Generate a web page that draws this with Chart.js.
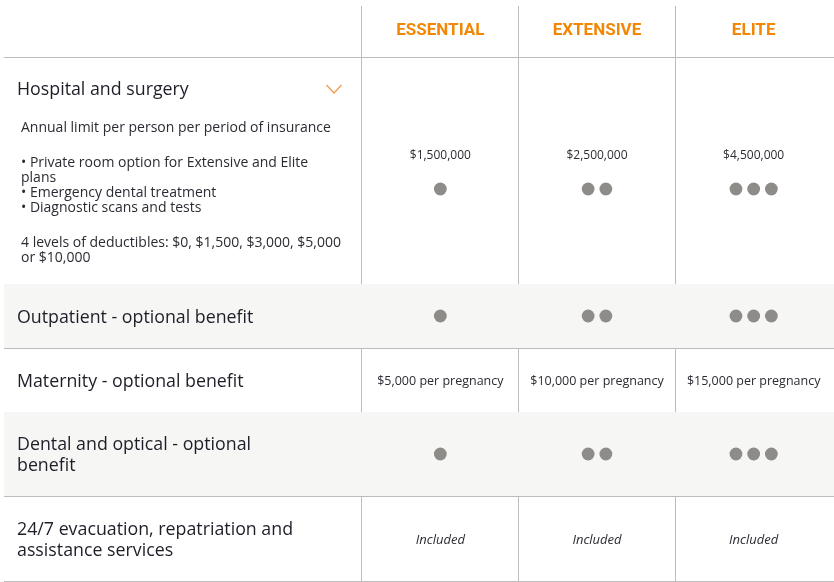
<!DOCTYPE html>
<html lang="en">
<head>
    <meta charset="UTF-8">
    <title>Health insurance plans</title>
    <style>
        html, body { margin: 0; padding: 0; background: #fff; }
        canvas { display: block; }
    </style>
</head>
<body>

<canvas id="myChart" width="834" height="582" aria-label="Plan comparison table" role="img"></canvas>

<script src="https://cdn.jsdelivr.net/npm/chart.js@4/dist/chart.umd.min.js"></script>

<script>
    // data
    var plans = ['ESSENTIAL', 'EXTENSIVE', 'ELITE'];
    var benefits = [
        ['Hospital and surgery'],
        ['Outpatient - optional benefit'],
        ['Maternity - optional benefit'],
        ['Dental and optical - optional', 'benefit'],
        ['24/7 evacuation, repatriation and', 'assistance services']
    ];
    var hospitalDetails = [
        'Annual limit per person per period of insurance',
        '',
        '\u2022 Private room option for Extensive and Elite',
        'plans',
        '\u2022 Emergency dental treatment',
        '\u2022 Diagnostic scans and tests',
        '',
        '4 levels of deductibles: $0, $1,500, $3,000, $5,000',
        'or $10,000'
    ];
    var hospitalLimits = ['$1,500,000', '$2,500,000', '$4,500,000'];
    var maternityLimits = ['$5,000 per pregnancy', '$10,000 per pregnancy', '$15,000 per pregnancy'];
    var evacuation = ['Included', 'Included', 'Included'];
    var hospitalLevel = [1, 2, 3];
    var outpatientLevel = [1, 2, 3];
    var dentalLevel = [1, 2, 3];

    // layout (pixels)
    var headerHeight = 51;
    var rowHeights = [227, 64, 64, 84, 85];
    var shadedRows = [1, 3];
    var labelWidth = 358;
    var colWidth = 156.67;
    var dotGap = 17.7;
    var textShift = 1.5; // nudge for the 'middle' baseline

    var bodyFont = "'Open Sans', sans-serif";
    var headFont = "bold 17px Roboto, sans-serif";

    // row boundaries on the y scale
    var bounds = [headerHeight];
    rowHeights.forEach(function (h) { bounds.push(bounds[bounds.length - 1] + h); });
    function rowMid(r) { return (bounds[r] + bounds[r + 1]) / 2; }

    var dots = [];
    function addDots(levels, y) {
        levels.forEach(function (n, i) {
            for (var k = 0; k < n; k++) {
                dots.push({ x: i + (k - (n - 1) / 2) * dotGap / colWidth, y: y });
            }
        });
    }
    addDots(hospitalLevel, rowMid(0) + 18.5);
    addDots(outpatientLevel, rowMid(1));
    addDots(dentalLevel, rowMid(3));

    var tablePlugin = {
        id: 'table',
        beforeDatasetsDraw: function (chart) {
            var ctx = chart.ctx, a = chart.chartArea, y = chart.scales.y;
            ctx.save();
            ctx.fillStyle = '#f6f6f5';
            shadedRows.forEach(function (r) {
                var t = y.getPixelForValue(bounds[r]), b = y.getPixelForValue(bounds[r + 1]);
                ctx.fillRect(a.left, t, a.right - a.left, b - t);
            });
            ctx.restore();
        },
        afterDraw: function (chart) {
            var ctx = chart.ctx, a = chart.chartArea, x = chart.scales.x, y = chart.scales.y;
            function py(v) { return y.getPixelForValue(v) + textShift; }
            ctx.save();
            ctx.textAlign = 'center';
            ctx.textBaseline = 'middle';

            // plan headers
            ctx.fillStyle = '#f28705';
            ctx.font = headFont;
            plans.forEach(function (p, i) {
                ctx.fillText(p, x.getPixelForValue(i), py(headerHeight / 2) - 2);
            });

            // per plan values
            ctx.fillStyle = '#2b2b33';
            ctx.font = '12px ' + bodyFont;
            hospitalLimits.forEach(function (t, i) {
                ctx.fillText(t, x.getPixelForValue(i), py(rowMid(0) - 16.5));
            });
            ctx.font = '12.5px ' + bodyFont;
            maternityLimits.forEach(function (t, i) {
                ctx.fillText(t, x.getPixelForValue(i), py(rowMid(2)));
            });
            ctx.font = 'italic 13px ' + bodyFont;
            evacuation.forEach(function (t, i) {
                ctx.fillText(t, x.getPixelForValue(i), py(rowMid(4)));
            });

            // benefit names
            ctx.textAlign = 'left';
            ctx.fillStyle = '#1e1e28';
            ctx.font = '17.8px ' + bodyFont;
            benefits.forEach(function (lines, r) {
                var cy = r === 0 ? py(bounds[0]) + 31 : py(rowMid(r)) - (lines.length - 1) * 10.5;
                lines.forEach(function (l, j) {
                    ctx.fillText(l, a.left + 13, cy + j * 21);
                });
            });

            // hospital details
            ctx.fillStyle = '#2b2b33';
            ctx.font = '14px ' + bodyFont;
            var ty = py(bounds[0]) + 70;
            hospitalDetails.forEach(function (l) {
                if (l === '') { ty += 20; return; }
                ctx.fillText(l, a.left + 17, ty);
                ty += 15;
            });

            // chevron
            var cx = a.left + labelWidth - 28, cyv = y.getPixelForValue(bounds[0]) + 32;
            ctx.strokeStyle = '#f2994a';
            ctx.lineWidth = 1.2;
            ctx.beginPath();
            ctx.moveTo(cx - 7.5, cyv - 4);
            ctx.lineTo(cx, cyv + 4);
            ctx.lineTo(cx + 7.5, cyv - 4);
            ctx.stroke();
            ctx.restore();
        }
    };

    var ctx = document.getElementById('myChart').getContext('2d');
    var myChart = new Chart(ctx, {
        type: 'scatter',
        data: {
            datasets: [{
                data: dots,
                backgroundColor: '#8e8c88',
                borderWidth: 0,
                pointRadius: 6.4,
                pointHoverRadius: 6.4
            }]
        },
        options: {
            responsive: false,
            animation: false,
            events: [],
            layout: { autoPadding: false, padding: { left: 4, top: 6, right: 0, bottom: 0 } },
            plugins: { legend: { display: false }, tooltip: { enabled: false } },
            scales: {
                x: {
                    type: 'linear',
                    min: -0.5 - labelWidth / colWidth,
                    max: 2.5 + 2 / colWidth,
                    afterBuildTicks: function (s) {
                        s.ticks = [-0.5, 0.5, 1.5].map(function (v) { return { value: v }; });
                    },
                    ticks: { display: false },
                    grid: { color: '#bcbcbc', lineWidth: 1, drawTicks: false },
                    border: { display: false }
                },
                y: {
                    type: 'linear',
                    reverse: true,
                    min: 0,
                    max: 576,
                    afterBuildTicks: function (s) {
                        s.ticks = bounds.map(function (v) { return { value: v }; });
                    },
                    ticks: { display: false },
                    grid: { color: '#bcbcbc', lineWidth: 1, drawTicks: false },
                    border: { display: false }
                }
            }
        },
        plugins: [tablePlugin]
    });
</script>

</body>
</html>
